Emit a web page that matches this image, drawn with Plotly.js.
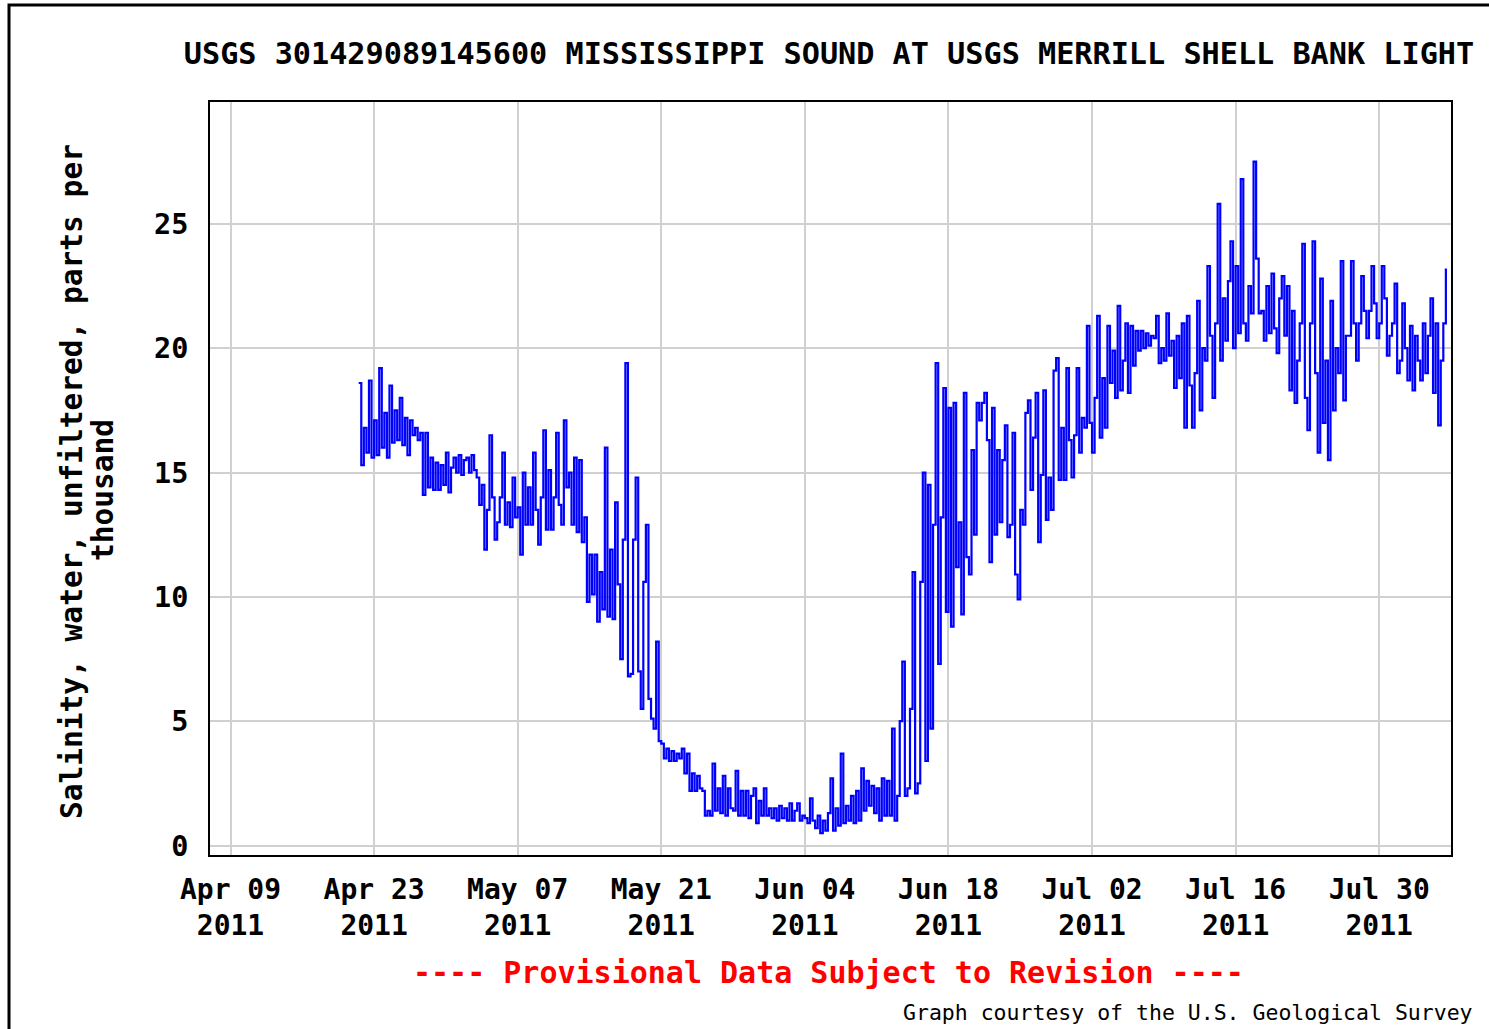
<!DOCTYPE html>
<html>
<head>
<meta charset="utf-8">
<script src="https://cdn.plot.ly/plotly-3.0.1.min.js"></script>
<style>
  html, body { margin: 0; padding: 0; background: #ffffff; }
  #chart { width: 1489px; height: 1029px; }
</style>
</head>
<body>
<div id="chart"></div>
<script>
// ---- Data ----
// Salinity samples every 6 hours, first sample at 2011-04-21 12:00
const seriesStart = "2011-04-21T12:00:00Z";
const stepHours = 6;
const salinity = [
  18.6, 15.3,
  16.8, 15.8, 18.7, 15.6,
  17.1, 15.7, 19.2, 16.0,
  17.4, 15.6, 18.5, 16.2,
  17.5, 16.3, 18.0, 16.1,
  17.2, 15.7, 17.1, 16.5,
  16.8, 16.3, 16.6, 14.1,
  16.6, 14.4, 15.6, 14.3,
  15.4, 14.3, 15.3, 14.5,
  15.8, 14.2, 15.2, 15.6,
  15.0, 15.7, 14.9, 15.5,
  15.6, 15.0, 15.7, 15.1,
  14.8, 13.7, 14.5, 11.9,
  13.5, 16.5, 14.0, 12.3,
  13.0, 14.0, 15.8, 12.9,
  13.8, 12.8, 14.8, 13.2,
  13.6, 11.7, 15.0, 12.9,
  14.4, 12.9, 15.8, 13.5,
  12.1, 14.0, 16.7, 12.7,
  15.1, 12.7, 14.0, 16.6,
  13.7, 12.9, 17.1, 14.4,
  15.0, 12.9, 15.6, 12.6,
  15.5, 12.2, 13.2, 9.8,
  11.7, 10.1, 11.7, 9.0,
  11.0, 9.5, 16.0, 9.2,
  11.9, 9.1, 13.8, 10.5,
  7.5, 12.3, 19.4, 6.8,
  6.9, 12.3, 14.8, 7.0,
  5.5, 10.6, 12.9, 5.9,
  5.1, 4.7, 8.2, 4.2,
  4.1, 3.5, 3.9, 3.4,
  3.8, 3.4, 3.7, 3.5,
  3.9, 2.9, 3.7, 2.2,
  2.9, 2.2, 2.8, 2.3,
  2.2, 1.2, 1.4, 1.2,
  3.3, 1.4, 2.3, 1.3,
  2.8, 1.2, 2.3, 1.5,
  1.4, 3.0, 1.2, 2.2,
  1.2, 2.2, 1.1, 2.0,
  2.3, 0.9, 1.8, 1.2,
  2.3, 1.2, 1.5, 1.1,
  1.5, 1.0, 1.6, 1.1,
  1.5, 1.0, 1.7, 1.0,
  1.4, 1.7, 1.0, 1.2,
  1.1, 0.9, 1.9, 1.0,
  0.7, 1.2, 0.5, 1.0,
  0.6, 1.3, 2.7, 0.6,
  1.5, 0.8, 3.7, 0.9,
  1.6, 1.0, 2.0, 0.9,
  2.2, 1.0, 3.1, 1.4,
  2.6, 1.6, 2.4, 1.3,
  2.3, 1.0, 2.7, 1.2,
  2.6, 1.2, 4.7, 1.0,
  2.0, 5.0, 7.4, 2.0,
  2.3, 5.5, 11.0, 2.1,
  2.5, 10.6, 15.0, 3.4,
  14.5, 4.7, 12.9, 19.4,
  7.3, 13.2, 18.4, 9.4,
  17.6, 8.8, 17.8, 11.2,
  13.0, 9.3, 18.2, 11.6,
  10.9, 15.9, 12.5, 17.8,
  17.1, 17.8, 18.2, 16.3,
  11.4, 17.6, 12.5, 15.9,
  13.0, 15.5, 16.9, 12.4,
  12.9, 16.6, 10.9, 9.9,
  13.5, 12.9, 17.4, 17.9,
  14.3, 16.4, 18.2, 12.2,
  14.9, 18.3, 13.1, 14.8,
  13.5, 19.1, 19.6, 14.7,
  16.8, 14.7, 19.2, 16.3,
  14.8, 16.5, 19.2, 15.8,
  17.2, 16.8, 20.9, 17.0,
  15.8, 18.0, 21.3, 16.4,
  18.8, 16.8, 20.9, 18.6,
  19.9, 18.0, 21.7, 18.3,
  19.5, 21.0, 18.2, 20.9,
  19.3, 20.7, 19.9, 20.7,
  20.0, 20.6, 20.1, 20.5,
  20.4, 21.3, 19.4, 20.0,
  19.5, 21.4, 19.7, 20.3,
  18.4, 20.5, 18.8, 21.0,
  16.8, 21.3, 18.5, 16.8,
  19.0, 21.9, 17.5, 20.0,
  19.5, 23.3, 20.5, 18.0,
  21.0, 25.8, 19.5, 22.0,
  20.3, 22.7, 24.3, 20.0,
  23.3, 20.6, 26.8, 21.0,
  20.3, 22.5, 21.4, 27.5,
  23.6, 21.4, 21.5, 20.3,
  22.5, 20.6, 23.0, 20.8,
  19.8, 22.0, 22.9, 20.5,
  22.5, 18.3, 21.5, 17.8,
  19.5, 21.0, 24.2, 18.0,
  16.7, 21.0, 24.3, 19.0,
  15.8, 22.8, 17.0, 19.5,
  15.5, 21.9, 17.5, 20.0,
  19.0, 23.5, 17.9, 20.5,
  20.5, 23.5, 21.0, 19.5,
  21.0, 22.9, 21.5, 20.4,
  21.5, 23.3, 21.8, 20.4,
  21.0, 23.3, 22.0, 19.7,
  20.5, 21.0, 22.6, 19.0,
  19.5, 21.8, 20.0, 18.7,
  20.9, 18.3, 20.5, 19.5,
  18.7, 21.0, 19.0, 20.5,
  22.0, 18.2, 21.0, 16.9,
  19.5, 21.0, 23.2
];

const tickDates = ["2011-04-09", "2011-04-23", "2011-05-07", "2011-05-21", "2011-06-04",
                   "2011-06-18", "2011-07-02", "2011-07-16", "2011-07-30"];
const tickLabels = ["Apr 09<br>2011", "Apr 23<br>2011", "May 07<br>2011", "May 21<br>2011", "Jun 04<br>2011",
                    "Jun 18<br>2011", "Jul 02<br>2011", "Jul 16<br>2011", "Jul 30<br>2011"];
const yTicks = [0, 5, 10, 15, 20, 25];

const chartTitle = "USGS 301429089145600 MISSISSIPPI SOUND AT USGS MERRILL SHELL BANK LIGHT";
const yTitleLine1 = "Salinity, water, unfiltered, parts per";
const yTitleLine2 = "thousand";
const provisionalNote = "---- Provisional Data Subject to Revision ----";
const courtesyNote = "Graph courtesy of the U.S. Geological Survey";

// ---- Build time stamps from the start + step ----
function fmt(d) {
  const p = n => String(n).padStart(2, "0");
  return d.getUTCFullYear() + "-" + p(d.getUTCMonth() + 1) + "-" + p(d.getUTCDate()) +
         " " + p(d.getUTCHours()) + ":" + p(d.getUTCMinutes());
}
const t0 = new Date(seriesStart).getTime();
const times = salinity.map((_, i) => fmt(new Date(t0 + i * stepHours * 3600 * 1000)));

const FONT = "DejaVu Sans Mono, monospace";

const trace = {
  type: "scatter",
  mode: "lines",
  x: times,
  y: salinity,
  line: { color: "#0000ff", width: 2.2, shape: "hv" },
  hoverinfo: "x+y"
};

// plot area: x 210..1451, y 102..855
const L = 210, R = 1489 - 1451, T = 102, B = 1029 - 855;
const PW = 1489 - L - R, PH = 1029 - T - B;
const px = X => (X - L) / PW;
const py = Y => (1029 - B - Y) / PH;

const layout = {
  width: 1489,
  height: 1029,
  paper_bgcolor: "#ffffff",
  plot_bgcolor: "#ffffff",
  margin: { l: L, r: R, t: T, b: B, pad: 0 },
  showlegend: false,
  title: {
    text: chartTitle,
    font: { family: FONT, size: 30.2, color: "#000000", weight: "bold" },
    x: 829 / 1489, xanchor: "center", xref: "container",
    y: 1 - 53 / 1029, yanchor: "middle", yref: "container"
  },
  xaxis: {
    type: "date",
    range: ["2011-04-07", "2011-08-06"],
    tickmode: "array",
    tickvals: tickDates,
    ticktext: tickLabels,
    ticks: "",
    ticklabelstandoff: 8,
    tickfont: { family: FONT, size: 28, color: "#000000", weight: "bold" },
    showgrid: true,
    gridcolor: "#d0d0d0",
    gridwidth: 2,
    zeroline: false,
    showline: true,
    linecolor: "#000000",
    linewidth: 2,
    mirror: true,
    fixedrange: true
  },
  yaxis: {
    range: [-0.38, 29.9],
    tickmode: "array",
    tickvals: yTicks,
    ticktext: yTicks.map(String),
    ticks: "",
    ticklabelstandoff: 14,
    tickfont: { family: FONT, size: 28.5, color: "#000000", weight: "bold" },
    showgrid: true,
    gridcolor: "#d0d0d0",
    gridwidth: 2,
    zeroline: false,
    showline: true,
    linecolor: "#000000",
    linewidth: 2,
    mirror: true,
    fixedrange: true
  },
  annotations: [
    {
      text: yTitleLine1, textangle: -90,
      xref: "paper", yref: "paper", x: px(72), y: py(482),
      xanchor: "center", yanchor: "middle", showarrow: false,
      font: { family: FONT, size: 29.5, color: "#000000", weight: "bold" }
    },
    {
      text: yTitleLine2, textangle: -90,
      xref: "paper", yref: "paper", x: px(103), y: py(490),
      xanchor: "center", yanchor: "middle", showarrow: false,
      font: { family: FONT, size: 29.5, color: "#000000", weight: "bold" }
    },
    {
      text: provisionalNote,
      xref: "paper", yref: "paper", x: px(828), y: py(972),
      xanchor: "center", yanchor: "middle", showarrow: false,
      font: { family: FONT, size: 30, color: "#ff0000", weight: "bold" }
    },
    {
      text: courtesyNote,
      xref: "paper", yref: "paper", x: px(1475), y: py(1012),
      xanchor: "right", yanchor: "middle", showarrow: false,
      font: { family: FONT, size: 21.5, color: "#000000" }
    }
  ],
  shapes: [
    {
      type: "rect", xref: "paper", yref: "paper", layer: "above",
      x0: px(9), x1: px(1520), y0: py(5), y1: py(1060),
      line: { color: "#000000", width: 3 }, fillcolor: "rgba(0,0,0,0)"
    }
  ]
};

Plotly.newPlot("chart", [trace], layout, { displayModeBar: false, staticPlot: true });
</script>
</body>
</html>
